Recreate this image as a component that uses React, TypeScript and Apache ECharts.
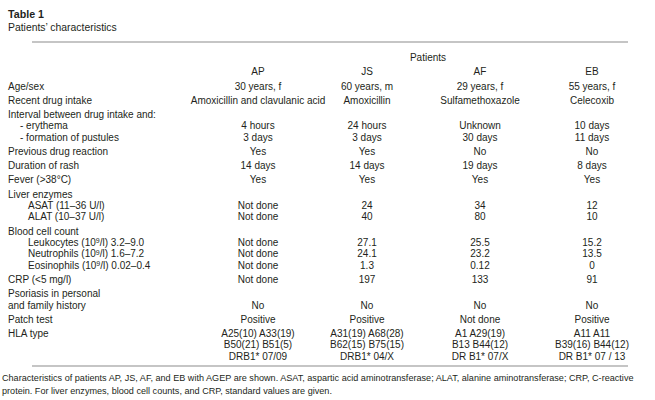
import React, { useEffect, useRef } from "react";
import * as echarts from "echarts";

const title = "Table 1";
const subtitle = "Patients\u2019 characteristics";
const groupHeader = "Patients";
const patients = ["AP", "JS", "AF", "EB"];

const rowLabels: string[][] = [
  ["Age/sex"],
  ["Recent drug intake"],
  ["Interval between drug intake and:", "- erythema", "- formation of pustules"],
  ["Previous drug reaction"],
  ["Duration of rash"],
  ["Fever (>38\u00b0C)"],
  ["Liver enzymes", "ASAT (11\u201336 U/l)", "ALAT (10\u201337 U/l)"],
  ["Blood cell count", "Leukocytes (10\u2079/l) 3.2\u20139.0", "Neutrophils (10\u2079/l) 1.6\u20137.2", "Eosinophils (10\u2079/l) 0.02\u20130.4"],
  ["CRP (<5 mg/l)"],
  ["Psoriasis in personal", "and family history"],
  ["Patch test"],
  ["HLA type", "", ""],
];
const labelIndent: number[][] = [
  [0], [0], [0, 1, 1], [0], [0], [0], [0, 2, 2], [0, 2, 2, 2], [0], [0, 0], [0], [0, 0, 0],
];

const valuesAP: string[][] = [
  ["30 years, f"], ["Amoxicillin and clavulanic acid"], ["", "4 hours", "3 days"], ["Yes"], ["14 days"], ["Yes"],
  ["", "Not done", "Not done"], ["", "Not done", "Not done", "Not done"], ["Not done"], ["", "No"], ["Positive"],
  ["A25(10) A33(19)", "B50(21) B51(5)", "DRB1* 07/09"],
];
const valuesJS: string[][] = [
  ["60 years, m"], ["Amoxicillin"], ["", "24 hours", "3 days"], ["Yes"], ["14 days"], ["Yes"],
  ["", "24", "40"], ["", "27.1", "24.1", "1.3"], ["197"], ["", "No"], ["Positive"],
  ["A31(19) A68(28)", "B62(15) B75(15)", "DRB1* 04/X"],
];
const valuesAF: string[][] = [
  ["29 years, f"], ["Sulfamethoxazole"], ["", "Unknown", "30 days"], ["No"], ["19 days"], ["Yes"],
  ["", "34", "80"], ["", "25.5", "23.2", "0.12"], ["133"], ["", "No"], ["Not done"],
  ["A1 A29(19)", "B13 B44(12)", "DR B1* 07/X"],
];
const valuesEB: string[][] = [
  ["55 years, f"], ["Celecoxib"], ["", "10 days", "11 days"], ["No"], ["8 days"], ["Yes"],
  ["", "12", "10"], ["", "15.2", "13.5", "0"], ["91"], ["", "No"], ["Positive"],
  ["A11 A11", "B39(16) B44(12)", "DR B1* 07 / 13"],
];

const captionLines = [
  "Characteristics of patients AP, JS, AF, and EB with AGEP are shown. ASAT, aspartic acid aminotransferase; ALAT, alanine aminotransferase; CRP, C-reactive",
  "protein. For liver enzymes, blood cell counts, and CRP, standard values are given.",
];

// layout
const FONT = "'Liberation Sans', Arial, sans-serif";
const TEXT = "#231f20";
const RULE = "#8c8c8c";
const BODY = 10;
const LEFT = 8;
const INDENT = [0, 12, 20];
const COL_X = [258, 367, 480, 592];
const FIRST_Y = 86;
const LINE_H = 11.4;
const ROW_GAP = 2.8;

const supRich = {
  sup: {
    fontFamily: FONT,
    fontSize: 7,
    fill: TEXT,
    verticalAlign: "top",
    lineHeight: 7,
  },
};

function txt(text: string, x: number, y: number, size: number, align: string, weight = "normal") {
  const hasSup = text.indexOf("\u2079") >= 0;
  const shown = hasSup ? text.replace(/\u2079/g, "{sup|9}") : text;
  return {
    type: "text",
    x,
    y,
    silent: true,
    style: {
      text: shown,
      fill: TEXT,
      font: `${weight} ${size}px ${FONT}`,
      align,
      verticalAlign: "middle",
      textAlign: align,
      textVerticalAlign: "middle",
      rich: hasSup ? supRich : undefined,
    },
  };
}

export default function App() {
  const ref = useRef<HTMLDivElement>(null);
  useEffect(() => {
    if (!ref.current) return;
    const chart = echarts.init(ref.current, undefined, { renderer: "svg" });
    const els: any[] = [];
    els.push(txt(title, LEFT, 14, 10.7, "left", "bold"));
    els.push(txt(subtitle, LEFT, 27, 10.4, "left"));
    els.push({ type: "line", silent: true, shape: { x1: 32, y1: 42, x2: 628, y2: 42 }, style: { stroke: RULE, lineWidth: 1.2 } });
    els.push(txt(groupHeader, 428, 57, BODY, "center"));
    patients.forEach((p, i) => els.push(txt(p, COL_X[i], 71, BODY, "center")));
    const cols = [valuesAP, valuesJS, valuesAF, valuesEB];
    let y = FIRST_Y;
    rowLabels.forEach((lines, r) => {
      lines.forEach((lab, k) => {
        const ly = y + k * LINE_H;
        if (lab) els.push(txt(lab, LEFT + INDENT[labelIndent[r][k]], ly, BODY, "left"));
        cols.forEach((col, c) => {
          const v = col[r][k];
          if (v) els.push(txt(v, COL_X[c], ly, BODY, "center"));
        });
      });
      y += lines.length * LINE_H + ROW_GAP;
    });
    els.push({ type: "line", silent: true, shape: { x1: 32, y1: 366, x2: 628, y2: 366 }, style: { stroke: RULE, lineWidth: 1.2 } });
    captionLines.forEach((c, i) => els.push(txt(c, 2, 378 + i * 13, 9.1, "left")));
    chart.setOption({ animation: false, backgroundColor: "#ffffff", graphic: { elements: els } });
    return () => chart.dispose();
  }, []);
  return <div ref={ref} style={{ position: "fixed", left: 0, top: 0, width: 655, height: 400 }} />;
}
